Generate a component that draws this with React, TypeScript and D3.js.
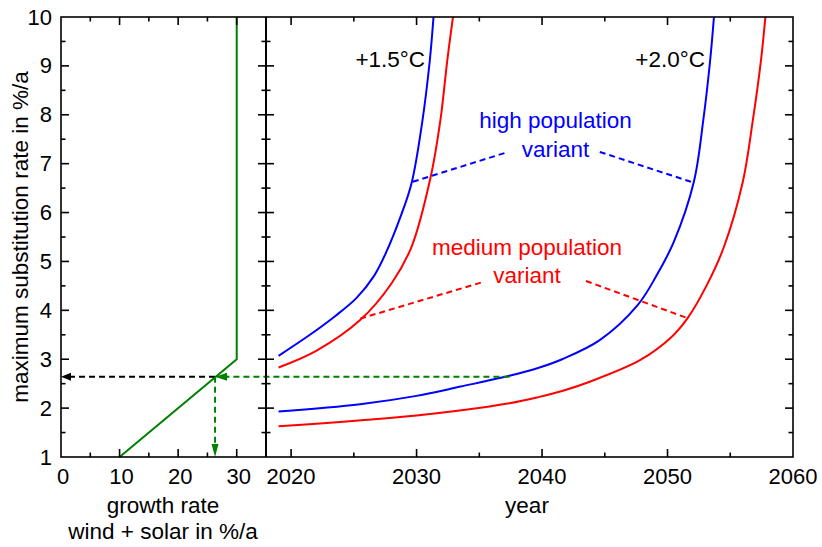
import React from "react";
import * as d3 from "d3";

// ---------- data ----------
// left panel: growth rate (%/a) vs max substitution rate (%/a)
const growthRate = [10, 30, 30];
const growthSubst = [1, 3, 10];

// right panel curves: [year, max substitution rate]
const blue15: [number, number][] = [
  [2019, 3.07], [2021.5, 3.5], [2023.5, 3.88], [2025.2, 4.25], [2026.6, 4.7],
  [2027.6, 5.2], [2028.7, 5.9], [2029.6, 6.6], [2030.45, 7.85], [2031.05, 9.1], [2031.35, 10],
];
const red15: [number, number][] = [
  [2019, 2.83], [2022, 3.17], [2025.5, 3.8], [2028.0, 4.55], [2029.6, 5.3],
  [2031.1, 6.7], [2031.9, 7.89], [2032.45, 9.12], [2032.9, 10],
];
const blue20: [number, number][] = [
  [2019, 1.93], [2025.5, 2.08], [2030, 2.25], [2033.5, 2.44], [2037.4, 2.66],
  [2039.8, 2.83], [2041.6, 3.0], [2044.6, 3.39], [2047.6, 4.1], [2049.1, 4.7],
  [2050.5, 5.4], [2052.1, 6.63], [2052.85, 7.89], [2053.4, 9.12], [2053.7, 10],
];
const red20: [number, number][] = [
  [2019, 1.63], [2030, 1.85], [2037.4, 2.1], [2039.8, 2.23], [2041.6, 2.35],
  [2043.8, 2.54], [2047.8, 2.98], [2050.3, 3.45], [2051.6, 3.84], [2053.1, 4.5],
  [2054.5, 5.3], [2056.0, 6.63], [2056.8, 7.89], [2057.45, 9.12], [2057.8, 10],
];

// construction lines
const workingRate = 2.64;
const workingGrowth = 26.3;        // growth rate at that substitution rate
const workingYear = 2037.4;        // year where blue 2.0°C curve hits it

// leader lines: [x1, y1, x2, y2] in data coords (year, rate)
const blueLeaders = [
  [2029.7, 6.63, 2037.3, 7.24],
  [2044.6, 7.24, 2052.1, 6.61],
];
const redLeaders = [
  [2025.5, 3.83, 2035.3, 4.58],
  [2043.5, 4.6, 2051.6, 3.84],
];

const leftTicks = [0, 10, 20, 30];
const leftMinor = [5, 15, 25];
const yearTicks = [2020, 2030, 2040, 2050, 2060];
const yearMinor = [2025, 2035, 2045, 2055];
const yTicks = [1, 2, 3, 4, 5, 6, 7, 8, 9, 10];
const yMinor = [1.5, 2.5, 3.5, 4.5, 5.5, 6.5, 7.5, 8.5, 9.5];

const tempLabels = [
  { text: "+1.5°C", year: 2031.0 },
  { text: "+2.0°C", year: 2053.3 },
];

// ---------- layout ----------
const W = 822, H = 547;
const xL = d3.scaleLinear().domain([0, 35]).range([61, 266]);
const xR = d3.scaleLinear().domain([2018, 2060]).range([266, 793]);
const y = d3.scaleLinear().domain([1, 10]).range([457, 17]);

const FONT = "'Liberation Sans', Arial, Helvetica, sans-serif";
const GREEN = "#008000";
const BLUE = "#0000ff";
const RED = "#ff0000";

const MAJ = 8, MIN = 4.5;

export default function App() {
  const top = y(10), bot = y(1);
  const l0 = xL(0), l1 = xL(35), r1 = xR(2060);

  const curve = d3
    .line<[number, number]>()
    .x((d) => xR(d[0]))
    .y((d) => y(d[1]))
    .curve(d3.curveCatmullRom.alpha(0.5));

  const greenPath = d3
    .line<number>()
    .x((_, i) => xL(growthRate[i]))
    .y((_, i) => y(growthSubst[i]))(growthRate.map((_, i) => i));

  const hy = y(workingRate);
  const gx = xL(workingGrowth);

  const ticks: JSX.Element[] = [];
  [...yTicks.filter((t) => t !== 1 && t !== 10).map((t) => [t, MAJ]), ...yMinor.map((t) => [t, MIN])].forEach(
    ([t, len], i) => {
      const yy = y(t);
      ticks.push(<line key={"yl" + i} x1={l0} x2={l0 + len} y1={yy} y2={yy} />);
      ticks.push(<line key={"yd" + i} x1={l1 - len} x2={l1 + len} y1={yy} y2={yy} />);
      ticks.push(<line key={"yr" + i} x1={r1 - len} x2={r1} y1={yy} y2={yy} />);
    }
  );
  [...leftTicks.filter((t) => t !== 0).map((t) => [t, MAJ]), ...leftMinor.map((t) => [t, MIN])].forEach(
    ([t, len], i) => {
      const xx = xL(t);
      ticks.push(<line key={"lt" + i} x1={xx} x2={xx} y1={top} y2={top + len} />);
      ticks.push(<line key={"lb" + i} x1={xx} x2={xx} y1={bot} y2={bot - len} />);
    }
  );
  [...yearTicks.filter((t) => t !== 2060).map((t) => [t, MAJ]), ...yearMinor.map((t) => [t, MIN])].forEach(
    ([t, len], i) => {
      const xx = xR(t);
      ticks.push(<line key={"rt" + i} x1={xx} x2={xx} y1={top} y2={top + len} />);
      ticks.push(<line key={"rb" + i} x1={xx} x2={xx} y1={bot} y2={bot - len} />);
    }
  );

  return (
    <svg width={W} height={H} style={{ position: "absolute", left: 0, top: 0 }} fontFamily={FONT}>
      <defs>
        <clipPath id="clipR">
          <rect x={xR(2018)} y={top} width={r1 - xR(2018)} height={bot - top} />
        </clipPath>
      </defs>
      <rect width={W} height={H} fill="#fff" />

      {/* curves */}
      <g clipPath="url(#clipR)" fill="none" strokeWidth={2}>
        <path d={curve(blue15) || ""} stroke={BLUE} />
        <path d={curve(red15) || ""} stroke={RED} />
        <path d={curve(blue20) || ""} stroke={BLUE} />
        <path d={curve(red20) || ""} stroke={RED} />
      </g>

      {/* leaders */}
      <g strokeWidth={2} strokeDasharray="6,4" fill="none">
        {blueLeaders.map((d, i) => (
          <line key={"bl" + i} x1={xR(d[0])} y1={y(d[1])} x2={xR(d[2])} y2={y(d[3])} stroke={BLUE} />
        ))}
        {redLeaders.map((d, i) => (
          <line key={"rl" + i} x1={xR(d[0])} y1={y(d[1])} x2={xR(d[2])} y2={y(d[3])} stroke={RED} />
        ))}
      </g>

      {/* green growth line */}
      <path d={greenPath || ""} fill="none" stroke={GREEN} strokeWidth={2} />

      {/* construction arrows */}
      <g strokeWidth={2} strokeDasharray="6,4" fill="none">
        <line x1={gx} y1={hy} x2={l0 + 8} y2={hy} stroke="#000" />
        <line x1={xR(workingYear)} y1={hy} x2={gx + 10} y2={hy} stroke={GREEN} />
        <line x1={gx} y1={hy} x2={gx} y2={bot - 12} stroke={GREEN} />
      </g>
      <path d={`M${l0},${hy} l10,-4 l0,8 z`} fill="#000" />
      <path d={`M${gx},${hy} l12,-4 l0,8 z`} fill={GREEN} />
      <path d={`M${gx},${bot} l-3.5,-13 l7,0 z`} fill={GREEN} />

      {/* frames & ticks */}
      <g stroke="#000" strokeWidth={1.6} fill="none">
        <rect x={l0} y={top} width={r1 - l0} height={bot - top} />
        <line x1={l1} x2={l1} y1={top} y2={bot} strokeWidth={2} />
        {ticks}
      </g>

      {/* tick labels */}
      <g fontSize={22} fill="#000">
        {yTicks.map((t) => (
          <text key={"yt" + t} x={l0 - 9} y={y(t)} textAnchor="end" dominantBaseline="central">
            {t}
          </text>
        ))}
        {leftTicks.map((t) => (
          <text key={"lx" + t} x={xL(t) + 2} y={484} textAnchor="middle">
            {t}
          </text>
        ))}
        {yearTicks.map((t) => (
          <text key={"rx" + t} x={xR(t)} y={484} textAnchor="middle">
            {t}
          </text>
        ))}
      </g>

      {/* axis titles */}
      <g fontSize={22.5} fill="#000" textAnchor="middle">
        <text x={163} y={513}>growth rate</text>
        <text x={163} y={539}>wind + solar in %/a</text>
        <text x={527} y={513}>year</text>
        <text transform={`translate(28,237) rotate(-90)`}>maximum substitution rate in %/a</text>
      </g>

      {/* annotations */}
      <g fontSize={22.5}>
        {tempLabels.map((d) => (
          <text key={d.text} x={xR(d.year) - 4} y={66.5} textAnchor="end" fill="#000">
            {d.text}
          </text>
        ))}
        <text x={555.5} y={128} textAnchor="middle" fill={BLUE}>high population</text>
        <text x={555.5} y={157} textAnchor="middle" fill={BLUE}>variant</text>
        <text x={527} y={255} textAnchor="middle" fill={RED}>medium population</text>
        <text x={527} y={283} textAnchor="middle" fill={RED}>variant</text>
      </g>
    </svg>
  );
}
